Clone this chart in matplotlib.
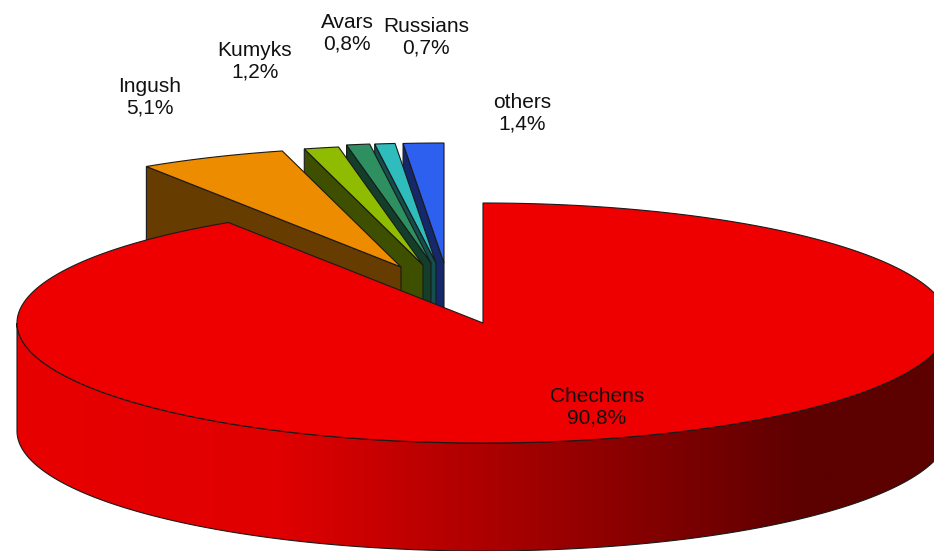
import numpy as np
import matplotlib
matplotlib.use("Agg")
import matplotlib.pyplot as plt
from matplotlib.patches import Polygon
from matplotlib.colors import LinearSegmentedColormap

names = ["Chechens", "Ingush", "Kumyks", "Avars", "Russians", "others"]
values = [90.8, 5.1, 1.2, 0.8, 0.7, 1.4]
value_labels = ["90,8%", "5,1%", "1,2%", "0,8%", "0,7%", "1,4%"]

top_colors = ["#EE0000", "#EE8C00", "#8FBC00", "#2E8F60", "#2EBCBC", "#2E60F0"]
face_colors = ["#5C0000", "#663C00", "#3F4F00", "#133F2A", "#144F50", "#14286A"]
# slice displacement from the pie centre, in pixels
explode = [(0, 0), (-82, -56), (-60, -58), (-52, -60), (-47, -60), (-39, -60)]
label_xy = [(597, 407), (150, 97), (255, 61), (347, 33), (426, 37), (522, 113)]

CX, CY, RX, RY, DEPTH = 483, 323, 466, 120, 108
EDGE = "#1a1a1a"
LW = 0.8

plt.rcParams["font.family"] = ["Liberation Sans", "DejaVu Sans"]
fig = plt.figure(figsize=(9.34, 5.51), dpi=100)
ax = fig.add_axes([0, 0, 1, 1])
ax.set_xlim(0, 934)
ax.set_ylim(551, 0)
ax.axis("off")


def rim(a0, a1, c, n=200):
    """Points on the rim, angles in degrees clockwise from 12 o'clock."""
    t = np.radians(np.linspace(a0, a1, n))
    return np.column_stack([c[0] + RX * np.sin(t), c[1] - RY * np.cos(t)])


shares = np.array(values) / sum(values) * 360
starts = np.concatenate([[0], np.cumsum(shares)[:-1]])
centres = [(CX + e[0], CY + e[1]) for e in explode]

# Exploded slices, back to front (right to left), each with its cut face
for i in range(len(values) - 1, 0, -1):
    c, a0, a1 = centres[i], starts[i], starts[i] + shares[i]
    corner = rim(a0, a0, c, 1)[0]
    face = [corner, c, (c[0], c[1] + DEPTH), (corner[0], corner[1] + DEPTH)]
    ax.add_patch(Polygon(face, closed=True, fc=face_colors[i], ec=EDGE, lw=LW, zorder=2))
    top = np.vstack([[c], rim(a0, a1, c, 30)])
    ax.add_patch(Polygon(top, closed=True, fc=top_colors[i], ec=EDGE, lw=LW, zorder=2))

# Main slice: outer wall with a horizontal shading
c = centres[0]
front = rim(90, 270, c)
wall = np.vstack([front, (front + [0, DEPTH])[::-1]])
cmap = LinearSegmentedColormap.from_list(
    "wall", [(0, "#E80000"), (0.28, "#E00000"), (0.85, "#5C0000"), (1, "#5C0000")])
im = ax.imshow(np.linspace(0, 1, 512)[None, :], cmap=cmap, aspect="auto",
               extent=(c[0] - RX, c[0] + RX, c[1] + RY + DEPTH, c[1] - RY), zorder=3)
wall_patch = Polygon(wall, closed=True, fc="none", ec=EDGE, lw=LW, zorder=3)
ax.add_patch(wall_patch)
im.set_clip_path(wall_patch)
ax.set_xlim(0, 934)
ax.set_ylim(551, 0)

top = np.vstack([[c], rim(starts[0], starts[0] + shares[0], c, 500)])
ax.add_patch(Polygon(top, closed=True, fc=top_colors[0], ec=EDGE, lw=LW, zorder=4))

for name, lab, (x, y) in zip(names, value_labels, label_xy):
    ax.text(x, y, f"{name}\n{lab}", ha="center", va="center", fontsize=15,
            color="#111111", linespacing=1.2, zorder=5)

fig.savefig("out.png", dpi=100)
